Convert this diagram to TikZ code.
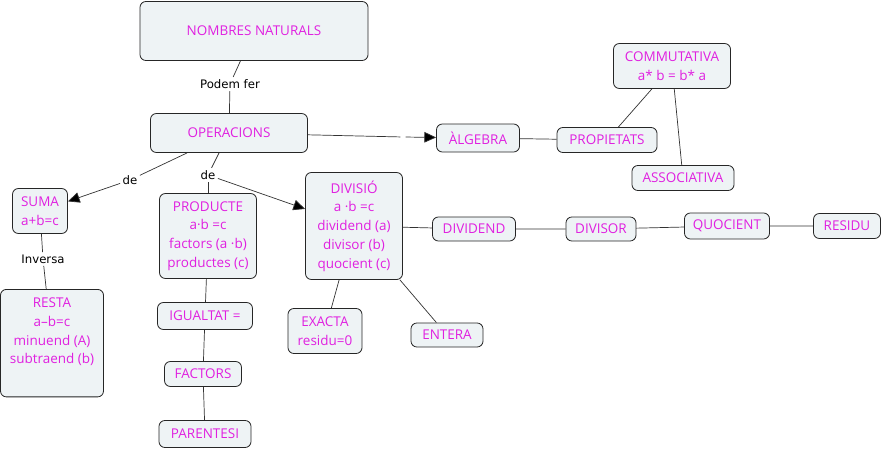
\documentclass[tikz,border=0pt]{standalone}
\usepackage{fontspec}
\setmainfont{Open Sans}
\newfontfamily\linkfont{DejaVu Sans}
\usetikzlibrary{arrows.meta, positioning}

\definecolor{conceptfill}{HTML}{EEF3F5}
\definecolor{concepttext}{HTML}{E020E0}
\definecolor{linkgrey}{HTML}{333333}

\begin{document}
\begin{tikzpicture}[
    x=0.03cm, y=-0.03cm,
    >={Triangle[length=10pt,width=9pt]},
    % Core styles
    concept/.style={
        draw=black!85, fill=conceptfill, line width=0.7pt,
        rounded corners=5pt, align=center, inner sep=2pt,
        text=concepttext, font=\fontsize{11.5}{16}\selectfont
    },
    linkword/.style={font=\linkfont\fontsize{10}{12}\selectfont, inner sep=2pt},
    link/.style={draw=linkgrey, line width=0.6pt},
    arrowlink/.style={link, ->, -{Triangle[length=10pt,width=9pt,fill=black]}}
]

\useasboundingbox (0,0) rectangle (884,449);

% === TOP: NOMBRES NATURALS / OPERACIONS ===
\node[concept, minimum width=6.84cm, minimum height=1.77cm] (naturals) at (254,31) {NOMBRES NATURALS};
\node[linkword] (podem) at (230,84) {Podem fer};
\node[concept, minimum width=4.71cm, minimum height=1.17cm] (operacions) at (229,133) {OPERACIONS};

\draw[link] (naturals) -- (podem) -- (operacions);

% === ALGEBRA BRANCH ===
\node[concept, minimum width=2.49cm, minimum height=0.84cm] (algebra) at (478,138) {ÀLGEBRA};
\node[concept, minimum width=3.0cm, minimum height=0.75cm] (propietats) at (607,140) {PROPIETATS};
\node[concept, minimum width=3.51cm, minimum height=1.35cm] (commutativa) at (672,66) {COMMUTATIVA\\a* b = b* a};
\node[concept, minimum width=3.06cm, minimum height=0.75cm] (associativa) at (683,178) {ASSOCIATIVA};
\node[linkword, minimum width=4pt] (buit) at (403,137) {};

\draw[link] (operacions) -- (buit);
\draw[arrowlink] (buit) -- (algebra);
\draw[link] (algebra) -- (propietats);
\draw[link] (propietats) -- (commutativa);
\draw[link] (commutativa) -- (associativa);

% === SUMA / RESTA ===
\node[linkword] (de_suma) at (130,180) {de};
\node[concept, minimum width=1.65cm, minimum height=1.35cm] (suma) at (40,211) {SUMA\\a+b=c};
\node[linkword] (inversa) at (43,259) {Inversa};
\node[concept, minimum width=3.09cm, anchor=north] (resta) at (52,289) {\rule{0pt}{13.5pt}RESTA\\a--b=c\\minuend (A)\\subtraend (b)\\[0.36cm]};

\draw[link] (operacions) -- (de_suma);
\draw[arrowlink] (de_suma) -- (suma);
\draw[link] (suma) -- (inversa) -- (resta);

% === PRODUCTE ===
\node[linkword] (de_prod) at (208,175) {de};
\node[concept, minimum width=2.91cm, minimum height=2.55cm] (producte) at (208,236) {PRODUCTE\\a·b =c\\factors (a ·b)\\productes (c)};
\node[concept, minimum width=2.85cm, minimum height=0.81cm] (igualtat) at (205,316) {IGUALTAT =};
\node[concept, minimum width=2.31cm, minimum height=0.75cm] (factors) at (203,374) {FACTORS};
\node[concept, minimum width=2.76cm, minimum height=0.81cm] (parentesi) at (205,434) {PARENTESI};

\draw[link] (operacions) -- (de_prod);
\draw[link] (de_prod) -- (producte);
\draw[link] (producte) -- (igualtat) -- (factors) -- (parentesi);

% === DIVISIO ===
\node[concept, minimum width=2.91cm, minimum height=3.21cm] (divisio) at (354,226) {DIVISIÓ\\a ·b =c\\dividend (a)\\divisor (b)\\quocient (c)};
\node[concept, minimum width=2.22cm, minimum height=1.35cm] (exacta) at (325,331) {EXACTA\\residu=0};
\node[concept, minimum width=2.16cm, minimum height=0.72cm] (entera) at (447,335) {ENTERA};
\node[concept, minimum width=2.49cm, minimum height=0.72cm] (dividend) at (474,229) {DIVIDEND};
\node[concept, minimum width=2.1cm, minimum height=0.72cm] (divisor) at (601,229) {DIVISOR};
\node[concept, minimum width=2.55cm, minimum height=0.78cm] (quocient) at (727,226) {QUOCIENT};
\node[concept, minimum width=2.01cm, minimum height=0.75cm] (residu) at (847,226) {RESIDU};

\draw[arrowlink] (de_prod) -- (divisio);
\draw[link] (divisio) -- (exacta);
\draw[link] (divisio) -- (entera);
\draw[link] (divisio) -- (dividend) -- (divisor) -- (quocient) -- (residu);

\end{tikzpicture}
\end{document}
